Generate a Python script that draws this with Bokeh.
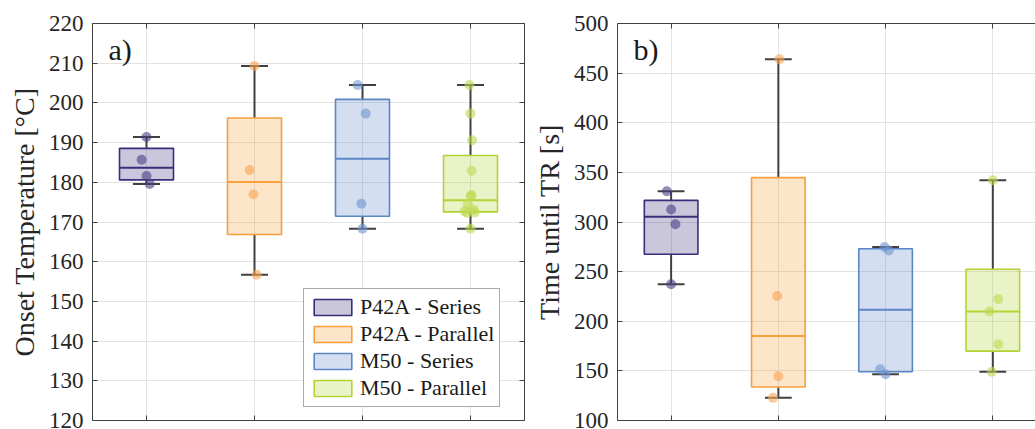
import math
from bokeh.plotting import figure
from bokeh.models import (Range1d, LinearAxis, FixedTicker, Legend, LegendItem, Label)
from bokeh.layouts import row
from bokeh.embed import file_html
from bokeh.resources import INLINE

# ---------------- data ----------------
groups = ["P42A - Series", "P42A - Parallel", "M50 - Series", "M50 - Parallel"]
group_pos = [1, 2, 3, 4]

onset_p42a_series = [191.4, 185.7, 181.6, 179.6]
onset_p42a_parallel = [209.3, 183.1, 177.0, 156.7]
onset_m50_series = [204.5, 197.3, 174.6, 168.3]
onset_m50_parallel = [204.5, 197.3, 190.6, 182.9, 176.8, 176.5, 174.5, 173.1,
                      172.7, 172.4, 172.3, 168.3]

time_p42a_series = [331.0, 312.6, 297.8, 237.3]
time_p42a_parallel = [464.0, 225.5, 144.6, 122.8]
time_m50_series = [274.9, 271.3, 151.7, 146.6]
time_m50_parallel = [342.1, 222.5, 209.8, 176.9, 149.0]

# horizontal jitter of the individual points (category units)
onset_jitter = [
    [0.0, -0.045, 0.0, 0.03],
    [0.0, -0.045, -0.01, 0.02],
    [-0.045, 0.03, -0.01, 0.0],
    [-0.01, 0.0, 0.015, 0.01, 0.01, 0.0, -0.025, 0.03, -0.055, 0.04, -0.03, 0.0],
]
time_jitter = [
    [-0.04, 0.0, 0.04, 0.0],
    [0.01, -0.01, 0.0, -0.05],
    [-0.01, 0.03, -0.05, 0.0],
    [0.0, 0.05, -0.03, 0.05, -0.01],
]

onset_ticks = [120, 130, 140, 150, 160, 170, 180, 190, 200, 210, 220]
time_ticks = [100, 150, 200, 250, 300, 350, 400, 450, 500]

edge_colors = ["#3b2d7a", "#f7a03c", "#5b87c8", "#b3d335"]
point_colors = ["#4a3d86", "#f9a451", "#6f95d0", "#bcd94e"]

FONT = "Liberation Serif"
TXT = "#262626"
AXC = "#404040"
GRID = "#e3e3e3"


def mquantile(vals, p):
    s = sorted(vals)
    n = len(s)
    pos = n * p + 0.5
    if pos <= 1:
        return s[0]
    if pos >= n:
        return s[-1]
    lo = int(math.floor(pos))
    f = pos - lo
    return s[lo - 1] + f * (s[lo] - s[lo - 1])


def box_stats(vals):
    q1, med, q3 = mquantile(vals, 0.25), mquantile(vals, 0.5), mquantile(vals, 0.75)
    iqr = q3 - q1
    lo = min(v for v in vals if v >= q1 - 1.5 * iqr)
    hi = max(v for v in vals if v <= q3 + 1.5 * iqr)
    return q1, med, q3, lo, hi


def style_hidden_axis(ax, ticks):
    ax.ticker = FixedTicker(ticks=ticks)
    ax.major_label_text_font_size = "1px"
    ax.major_label_text_color = None
    ax.major_label_standoff = 0
    ax.major_tick_in = 5
    ax.major_tick_out = 0
    ax.minor_tick_in = 0
    ax.minor_tick_out = 0
    ax.axis_line_color = AXC
    ax.major_tick_line_color = AXC


def make_panel(series, jitters, y0, y1, yticks, ylabel, letter, width,
               mbl, mbr, x_end, with_legend, right_axis, label_standoff):
    p = figure(width=width, height=429, x_range=Range1d(0.5, x_end),
               y_range=Range1d(y0, y1), output_backend="svg",
               toolbar_location=None, min_border_left=mbl, min_border_right=mbr,
               min_border_top=23, min_border_bottom=9)
    p.outline_line_color = None
    p.background_fill_color = "white"
    p.border_fill_color = "white"

    style_hidden_axis(p.xaxis[0], group_pos)
    ya = p.yaxis[0]
    ya.ticker = FixedTicker(ticks=yticks)
    ya.major_label_text_font = FONT
    ya.major_label_text_font_size = "23px"
    ya.major_label_text_color = TXT
    ya.major_label_standoff = 9
    ya.major_tick_in = 5
    ya.major_tick_out = 0
    ya.minor_tick_in = 0
    ya.minor_tick_out = 0
    ya.axis_line_color = AXC
    ya.major_tick_line_color = AXC
    ya.axis_label = ylabel
    ya.axis_label_text_font = FONT
    ya.axis_label_text_font_size = "28px"
    ya.axis_label_text_font_style = "normal"
    ya.axis_label_text_color = TXT
    ya.axis_label_standoff = label_standoff

    top = LinearAxis()
    style_hidden_axis(top, group_pos)
    p.add_layout(top, "above")
    if right_axis:
        ra = LinearAxis()
        style_hidden_axis(ra, yticks)
        p.add_layout(ra, "right")

    p.xgrid.grid_line_color = GRID
    p.ygrid.grid_line_color = GRID

    half_w = 0.25
    cap_w = 0.125
    box_renderers = []
    for i, vals in enumerate(series):
        x = group_pos[i]
        q1, med, q3, lo, hi = box_stats(vals)
        c = edge_colors[i]
        p.segment(x0=[x, x], y0=[lo, q3], x1=[x, x], y1=[q1, hi],
                  line_color=AXC, line_width=2)
        p.segment(x0=[x - cap_w, x - cap_w], y0=[lo, hi],
                  x1=[x + cap_w, x + cap_w], y1=[lo, hi],
                  line_color=AXC, line_width=2)
        r = p.quad(left=[x - half_w], right=[x + half_w], bottom=[q1], top=[q3],
                   fill_color=c, fill_alpha=0.27, line_color=c, line_width=1.6)
        box_renderers.append(r)
        p.segment(x0=[x - half_w], y0=[med], x1=[x + half_w], y1=[med],
                  line_color=c, line_width=2)
        xs = [x + j for j in jitters[i]]
        p.scatter(x=xs, y=vals, size=10, fill_color=point_colors[i],
                  fill_alpha=0.6, line_color=None)

    px_per_unit_y = 397.0 / (y1 - y0)
    p.add_layout(Label(x=0.5 + 16 / 108.0, y=y1 - 9 / px_per_unit_y, text=letter,
                       text_font=FONT, text_font_size="30px", text_color="#1a1a1a",
                       text_baseline="top", text_align="left"))

    if with_legend:
        items = [LegendItem(label=g, renderers=[r]) for g, r in zip(groups, box_renderers)]
        leg = Legend(items=items, location=(211, 13), label_text_font=FONT,
                     label_text_font_size="22px", label_text_color="#1a1a1a",
                     glyph_width=47, glyph_height=20, label_height=20,
                     spacing=1, padding=5, margin=0, label_standoff=4,
                     border_line_color="#555555", border_line_width=1,
                     background_fill_color="white", background_fill_alpha=1)
        p.add_layout(leg)
    return p


p1 = make_panel([onset_p42a_series, onset_p42a_parallel, onset_m50_series, onset_m50_parallel],
                onset_jitter, 120, 220, onset_ticks, "Onset Temperature [°C]", "a)",
                530, 92, 6, 4.5, True, True, 6)
p2 = make_panel([time_p42a_series, time_p42a_parallel, time_m50_series, time_m50_parallel],
                time_jitter, 100, 500, time_ticks, "Time until TR [s]", "b)",
                505, 84, 0, 0.5 + 421 / 108.0, False, False, 6)

layout = row(p1, p2)
open("out.html", "w").write(file_html(layout, INLINE))
